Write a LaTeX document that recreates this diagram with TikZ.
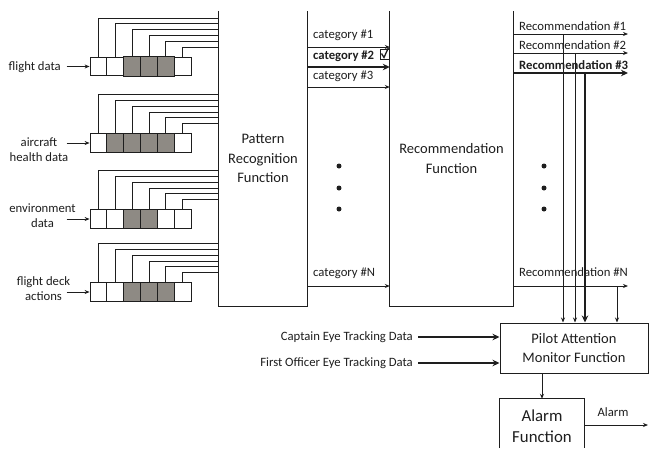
\documentclass[tikz,border=0pt]{standalone}
\usepackage{fontspec}
\setmainfont{Carlito}
\usetikzlibrary{arrows.meta,calc}
\definecolor{cellgray}{RGB}{142,138,132}
\definecolor{inkc}{RGB}{30,30,30}
\begin{document}
\begin{tikzpicture}[x=1pt,y=-1pt,
  thinline/.style={line width=0.8pt,draw=inkc},
  boxline/.style={line width=1pt,draw=inkc},
  arr/.style={line width=0.8pt,draw=inkc,-{Stealth[length=5pt,width=4pt]}},
  thickarr/.style={line width=2.4pt,draw=inkc,-{Stealth[length=7pt,width=6.5pt]}},
  smalltxt/.style={font=\fontsize{12.7}{15}\selectfont,inner sep=0pt,text=inkc},
  midtxt/.style={font=\fontsize{14.5}{19.5}\selectfont,inner sep=0pt,text=inkc,align=center},
  bigtxt/.style={font=\fontsize{16.8}{21}\selectfont,inner sep=0pt,text=inkc,align=center},
  cell/.style={draw=inkc,line width=0.8pt,minimum width=16.83pt,minimum height=18.5pt,inner sep=0pt},
  dotc/.style={circle,fill=inkc,inner sep=0pt,minimum size=5pt}
]
\useasboundingbox (0,0) rectangle (649,448);

% main function boxes (open at the top)
\node[midtxt,minimum width=88pt,minimum height=295pt] (PR) at (263,158.5) {Pattern\\Recognition\\Function};
\node[midtxt,minimum width=123pt,minimum height=295pt] (RF) at (451.5,158.5) {Recommendation\\Function};
\draw[boxline] (PR.north west) -- (PR.south west) -- (PR.south east) -- (PR.north east);
\draw[boxline] (RF.north west) -- (RF.south west) -- (RF.south east) -- (RF.north east);

% input registers
\foreach \r/\cy in {1/66.5,2/143,3/219,4/292}{
  \foreach \c in {1,...,6}{
    \node[cell] (r\r-\c) at ({90+16.83*(\c-0.5)},\cy) {};
  }
}
\foreach \r/\gl in {1/{3,4,5},2/{2,3,4,5},3/{3,4},4/{3,4,5}}{
  \foreach \g in \gl{
    \filldraw[fill=cellgray,draw=inkc,line width=0.8pt] (r\r-\g.south west) rectangle (r\r-\g.north east);
  }
}
\foreach \r/\cy in {1/66.5,2/143,3/219,4/292}{
  \foreach \c in {1,...,6}{
    \pgfmathsetmacro{\yy}{\cy-48.5+5.8*(\c-1)}
    \draw[thinline] (r\r-\c.north) |- (PR.west |- 0,\yy);
  }
}

% input labels
\node[smalltxt,anchor=east] (L1) at (61,67) {flight data};
\node[smalltxt,align=center] (L2) at (39,150) {aircraft\\health data};
\node[smalltxt,align=center] (L3) at (42.5,215.5) {environment\\data};
\node[smalltxt,align=center] (L4) at (43.5,288.5) {flight deck\\actions};
\foreach \r in {1,...,4}{
  \draw[arr] ([xshift=-23pt]r\r-1.west) -- (r\r-1.west);
}

% categories
\node[smalltxt,anchor=west] (c1) at (313,35) {category \#1};
\node[smalltxt,anchor=west,font=\fontsize{12.7}{15}\selectfont\bfseries] (c2) at (313,56) {category \#2};
\node[smalltxt,anchor=west] (c3) at (313,76) {category \#3};
\node[smalltxt,anchor=west] (cN) at (313,273) {category \#N};
\draw[arr] (PR.east |- 0,47) -- (RF.west |- 0,47);
\draw[thickarr,line width=2pt] (PR.east |- 0,67) -- (RF.west |- 0,67);
\draw[arr] (PR.east |- 0,87) -- (RF.west |- 0,87);
\draw[arr] (PR.east |- 0,286) -- (RF.west |- 0,286);
\node[draw=inkc,line width=0.9pt,minimum width=9pt,minimum height=10pt,inner sep=0pt] (chk) at (384.5,54) {};
\draw[line width=1.3pt,draw=inkc] (381.5,53.5) -- (384,57.5) -- (388.5,47.5);

% dots
\foreach \y in {166,188,209}{
  \node[dotc] at (339,\y) {};
  \node[dotc] at (544,\y) {};
}

% recommendations
\coordinate (rend) at (628,0);
\node[smalltxt,anchor=west] (R1) at (519,26) {Recommendation \#1};
\node[smalltxt,anchor=west] (R2) at (519,45) {Recommendation \#2};
\node[smalltxt,anchor=west,font=\fontsize{12.7}{15}\selectfont\bfseries] (R3) at (519,65) {Recommendation \#3};
\node[smalltxt,anchor=west] (RN) at (519,272) {Recommendation \#N};
\draw[arr] (RF.east |- 0,34) -- (rend |- 0,34);
\draw[arr] (RF.east |- 0,53) -- (rend |- 0,53);
\draw[thickarr,line width=2pt] (RF.east |- 0,73) -- (rend |- 0,73);
\draw[arr] (RF.east |- 0,286) -- (rend |- 0,286);

% pilot attention monitor
\node[midtxt,draw=inkc,line width=1pt,minimum width=148pt,minimum height=50pt] (PA) at (574,348) {Pilot Attention\\Monitor Function};
\coordinate (v1) at (563,34);
\coordinate (v2) at (575,53);
\coordinate (v3) at (585,73);
\coordinate (v4) at (617,286);
\draw[arr] (v1) -- (PA.north -| v1);
\draw[arr] (v2) -- (PA.north -| v2);
\draw[thickarr,line width=2pt] (v3) -- (PA.north -| v3);
\draw[arr] (v4) -- (PA.north -| v4);

\node[smalltxt,anchor=east] (cap) at (413,337) {Captain Eye Tracking Data};
\node[smalltxt,anchor=east] (fo) at (413,363) {First Officer Eye Tracking Data};
\draw[thickarr] ([xshift=5pt]cap.east) -- (PA.west |- cap.east);
\draw[thickarr] ([xshift=5pt]fo.east) -- (PA.west |- fo.east);

% alarm function (bottom cut off)
\node[minimum width=84pt,minimum height=49pt,inner sep=0pt] (AL) at (542,423.5) {};
\draw[boxline] (AL.south west) -- (AL.north west) -- (AL.north east) -- (AL.south east);
\node[bigtxt] (ALt) at (542,426.5) {Alarm\\Function};
\draw[arr] (PA.south -| AL.north) -- (AL.north);
\coordinate (aend) at (648,425);
\draw[arr] (AL.east |- aend) -- (aend);
\node[smalltxt] (alab) at (613,412) {Alarm};
\end{tikzpicture}
\end{document}
